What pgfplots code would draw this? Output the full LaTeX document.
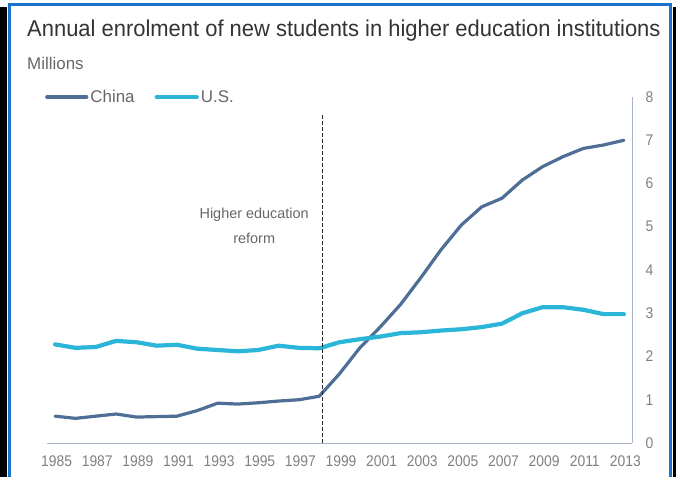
\documentclass[border=0pt]{standalone}
\usepackage{fontspec}
\setmainfont{Liberation Sans}
\usepackage{pgfplots}
\pgfplotsset{compat=1.18}
\definecolor{china}{HTML}{4F6E96}
\definecolor{us}{HTML}{2BB5D8}
\definecolor{frameblue}{HTML}{1F72CC}
\definecolor{txt}{HTML}{333333}
\definecolor{ticktxt}{HTML}{808080}
\definecolor{axisgray}{HTML}{A6B4C4}

\begin{document}
\begin{tikzpicture}[x=1bp,y=1bp]
\path[use as bounding box] (0,0) rectangle (676,477);
\fill[black] (0,0) rectangle (7,470);
\fill[black] (673,0) rectangle (676,470);
\draw[frameblue, line width=3.5bp] (9.5,-5) -- (9.5,472.5) -- (670.5,472.5) -- (670.5,-5);
\node[anchor=base west, inner sep=0pt, font=\fontsize{23}{25}\selectfont, text=txt] at (27,440) {\scalebox{0.958}[1]{Annual enrolment of new students in higher education institutions}};
\node[anchor=base west, inner sep=0pt, font=\fontsize{17}{19}\selectfont, text=ticktxt!80!black] at (27,407) {Millions};
\begin{axis}[
  at={(47bp,34bp)}, anchor=south west,
  scale only axis, width=585bp, height=346bp,
  xmin=1984.6, xmax=2013.4, ymin=0, ymax=8,
  axis x line=bottom, axis y line=right,
  axis line style={axisgray, line width=0.9bp, -},
  xtick={1985,1987,...,2013},
  ytick={0,1,...,8},
  major tick length=0pt,
  xticklabel={\scalebox{0.9}[1]{\pgfmathprintnumber[1000 sep={}]{\tick}}},
  yticklabel={\scalebox{0.9}[1]{\pgfmathprintnumber{\tick}}},
  x tick label style={font=\fontsize{15.5}{17}\selectfont, text=ticktxt, yshift=-9bp, xshift=1.5bp},
  y tick label style={font=\fontsize{15.5}{17}\selectfont, text=ticktxt, xshift=10bp},
  /pgf/number format/assume math mode=true,
  legend columns=2,
  legend style={at={(rel axis cs:0,1)}, anchor=west, draw=none, fill=none,
    font=\fontsize{17}{19}\selectfont, text=ticktxt!80!black, xshift=-5bp,
    /tikz/every even column/.append style={column sep=18bp},
    /tikz/every odd column/.append style={inner xsep=1bp}},
  legend image code/.code={\draw[#1] (0bp,0bp) -- (40bp,0bp);},
  clip=false,
]
\addplot[china, line width=3.2bp, line join=round, line cap=round] coordinates {
(1985,0.62)(1986,0.57)(1987,0.62)(1988,0.67)(1989,0.60)(1990,0.61)(1991,0.62)
(1992,0.75)(1993,0.92)(1994,0.90)(1995,0.93)(1996,0.97)(1997,1.00)(1998,1.08)
(1999,1.60)(2000,2.20)(2001,2.68)(2002,3.20)(2003,3.82)(2004,4.47)(2005,5.04)
(2006,5.46)(2007,5.66)(2008,6.08)(2009,6.39)(2010,6.62)(2011,6.81)(2012,6.89)(2013,7.00)};
\addlegendentry{China}
\addplot[us, line width=4.2bp, line join=round, line cap=round] coordinates {
(1985,2.28)(1986,2.20)(1987,2.22)(1988,2.36)(1989,2.33)(1990,2.25)(1991,2.27)
(1992,2.18)(1993,2.15)(1994,2.12)(1995,2.15)(1996,2.25)(1997,2.20)(1998,2.19)
(1999,2.33)(2000,2.40)(2001,2.46)(2002,2.54)(2003,2.56)(2004,2.60)(2005,2.63)
(2006,2.68)(2007,2.76)(2008,3.00)(2009,3.14)(2010,3.14)(2011,3.08)(2012,2.98)(2013,2.98)};
\addlegendentry{U.S.}
\addplot[black!85, line width=1.4bp, dash pattern=on 3.5bp off 2.5bp, forget plot] coordinates {(1998.15,0)(1998.15,7.63)};
\node[align=center, text=ticktxt!80!black, font=\fontsize{14.5}{26}\selectfont] at (axis cs:1994.8,5.02) {Higher education\\reform};
\end{axis}
\end{tikzpicture}
\end{document}
